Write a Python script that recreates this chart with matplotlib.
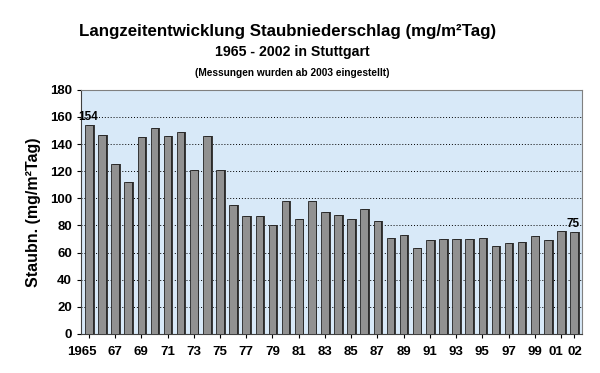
import numpy as np
import matplotlib
matplotlib.use("Agg")
import matplotlib.pyplot as plt
import matplotlib.transforms as mtransforms

years = list(range(1965, 2003))
values = [154, 147, 125, 112, 145, 152, 146, 149, 121, 146,
          121, 95, 87, 87, 80, 98, 85, 98, 90, 88,
          85, 92, 83, 71, 73, 63, 69, 70, 70, 70,
          71, 65, 67, 68, 72, 69, 76, 75]
tick_years = [1965, 1967, 1969, 1971, 1973, 1975, 1977, 1979, 1981, 1983,
              1985, 1987, 1989, 1991, 1993, 1995, 1997, 1999, 2001, 2002]
tick_labels = ['1965', '67', '69', '71', '73', '75', '77', '79', '81', '83',
               '85', '87', '89', '91', '93', '95', '97', '99', '01', '02']
labelled = {1965: '154', 2002: '75'}

plt.rcParams['font.family'] = ['Liberation Sans', 'DejaVu Sans']
plt.rcParams['font.weight'] = 'bold'

fig = plt.figure(figsize=(6, 3.73), dpi=100)
ax = fig.add_axes([0.135, 0.105, 0.835, 0.654])
ax.set_facecolor('#d8e9f8')

x = np.arange(len(years))
w = 0.58
# 3D-ish side/shadow
ax.bar(x + 0.14, values, width=w, color='#3a3a3a', zorder=2)
ax.bar(x, values, width=w, color='#919191', edgecolor='#202020',
       linewidth=0.6, zorder=3)

for yr, txt in labelled.items():
    i = years.index(yr)
    ax.text(x[i] - 0.05, values[i] + 1.5, txt, ha='center', va='bottom',
            fontsize=8.5, fontweight='bold', zorder=4)

ax.set_ylim(0, 180)
ax.set_yticks(range(0, 181, 20))
ax.set_xlim(-0.6, len(years) - 0.4)
ax.set_xticks([years.index(y) for y in tick_years])
ax.set_xticklabels(tick_labels)
ax.tick_params(axis='both', labelsize=9.5, length=3, width=0.8)
ax.tick_params(axis='x', pad=6)
for t in ax.get_xticklabels() + ax.get_yticklabels():
    t.set_fontweight('bold')

# nudge crowded labels apart like the original
nudge = {'1965': -7, '01': -5, '02': 1}
for t in ax.get_xticklabels():
    dx = nudge.get(t.get_text(), 0)
    if dx:
        t.set_transform(t.get_transform() +
                        mtransforms.ScaledTranslation(dx / 100, 0, fig.dpi_scale_trans))

ax.yaxis.grid(True, linestyle=(0, (1, 2)), color='black', linewidth=0.7)
ax.set_axisbelow(True)
for s in ['top', 'right']:
    ax.spines[s].set_color('#808080')
ax.spines['left'].set_color('#404040')
ax.spines['bottom'].set_color('#404040')

ax.set_ylabel('Staubn. (mg/m²Tag)', fontsize=11.5, fontweight='bold', labelpad=6)

fig.text(0.479, 0.915, 'Langzeitentwicklung Staubniederschlag (mg/m²Tag)',
         ha='center', va='center', fontsize=12.2, fontweight='bold')
fig.text(0.487, 0.86, '1965 - 2002 in Stuttgart',
         ha='center', va='center', fontsize=10.2, fontweight='bold')
fig.text(0.487, 0.803, '(Messungen wurden ab 2003 eingestellt)',
         ha='center', va='center', fontsize=7.3, fontweight='bold')

fig.savefig('out.png', dpi=100)
